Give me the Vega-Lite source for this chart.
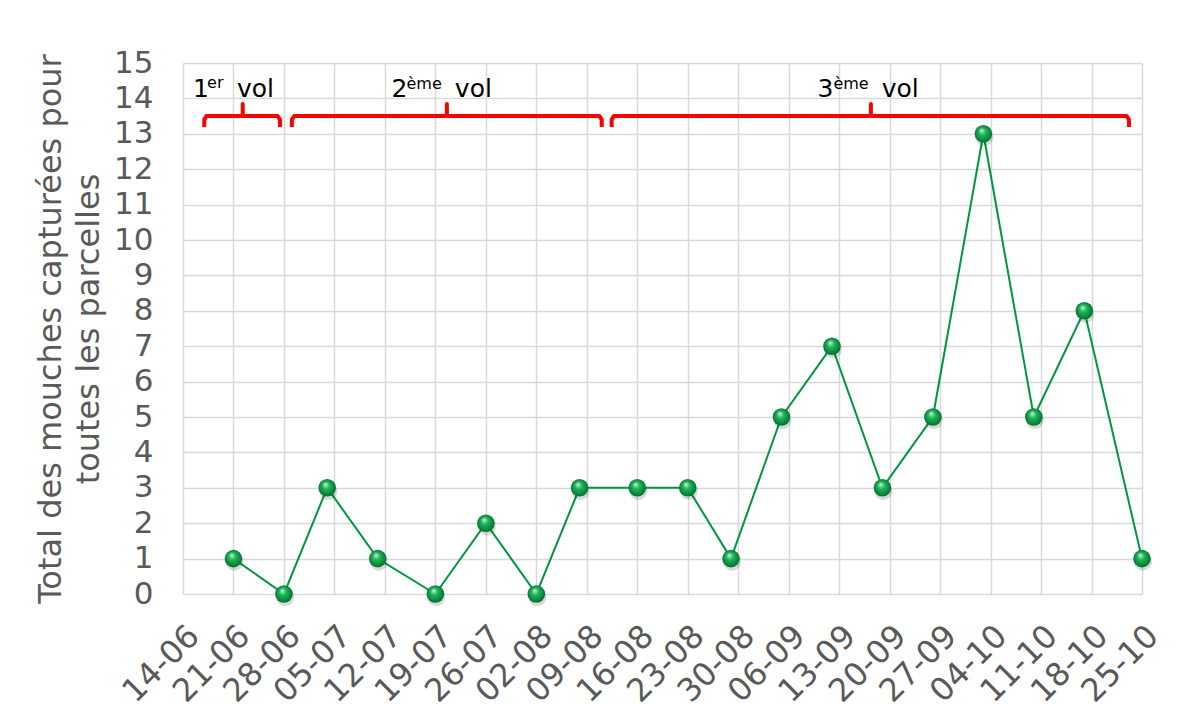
{
  "$schema": "https://vega.github.io/schema/vega-lite/v6.json",
  "width": 959,
  "height": 531,
  "autosize": {"type": "none"},
  "padding": {"left": 183, "top": 63, "right": 58, "bottom": 123},
  "background": "white",
  "config": {
    "font": "DejaVu Sans",
    "view": {"stroke": null},
    "axis": {"labelColor": "#595959", "titleColor": "#595959", "gridColor": "#d9d9d9", "gridWidth": 1.5, "domain": false, "ticks": false, "tickSize": 0}
  },
  "datasets": {
    "pts": [
      {"date": "2021/06/21", "v": 1},
      {"date": "2021/06/28", "v": 0},
      {"date": "2021/07/04", "v": 3},
      {"date": "2021/07/11", "v": 1},
      {"date": "2021/07/19", "v": 0},
      {"date": "2021/07/26", "v": 2},
      {"date": "2021/08/02", "v": 0},
      {"date": "2021/08/08", "v": 3},
      {"date": "2021/08/16", "v": 3},
      {"date": "2021/08/23", "v": 3},
      {"date": "2021/08/29", "v": 1},
      {"date": "2021/09/05", "v": 5},
      {"date": "2021/09/12", "v": 7},
      {"date": "2021/09/19", "v": 3},
      {"date": "2021/09/26", "v": 5},
      {"date": "2021/10/03", "v": 13},
      {"date": "2021/10/10", "v": 5},
      {"date": "2021/10/17", "v": 8},
      {"date": "2021/10/25", "v": 1}
    ],
    "braces": [
      {"b": "1", "o": 1, "date": "2021/06/16 22:48", "v": 13.19},
      {"b": "1", "o": 2, "date": "2021/06/16 22:48", "v": 13.4},
      {"b": "1", "o": 3, "date": "2021/06/17 06:00", "v": 13.5},
      {"b": "1", "o": 4, "date": "2021/06/22 06:45", "v": 13.5},
      {"b": "1", "o": 5, "date": "2021/06/22 06:45", "v": 13.84},
      {"b": "1", "o": 6, "date": "2021/06/22 06:45", "v": 13.5},
      {"b": "1", "o": 7, "date": "2021/06/27 03:00", "v": 13.5},
      {"b": "1", "o": 8, "date": "2021/06/27 10:48", "v": 13.4},
      {"b": "1", "o": 9, "date": "2021/06/27 10:48", "v": 13.19},
      {"b": "2", "o": 1, "date": "2021/06/29 02:24", "v": 13.19},
      {"b": "2", "o": 2, "date": "2021/06/29 02:24", "v": 13.4},
      {"b": "2", "o": 3, "date": "2021/06/29 10:00", "v": 13.5},
      {"b": "2", "o": 4, "date": "2021/07/20 14:24", "v": 13.5},
      {"b": "2", "o": 5, "date": "2021/07/20 14:24", "v": 13.84},
      {"b": "2", "o": 6, "date": "2021/07/20 14:24", "v": 13.5},
      {"b": "2", "o": 7, "date": "2021/08/10 18:00", "v": 13.5},
      {"b": "2", "o": 8, "date": "2021/08/11 01:41", "v": 13.4},
      {"b": "2", "o": 9, "date": "2021/08/11 01:41", "v": 13.19},
      {"b": "3", "o": 1, "date": "2021/08/12 10:48", "v": 13.19},
      {"b": "3", "o": 2, "date": "2021/08/12 10:48", "v": 13.4},
      {"b": "3", "o": 3, "date": "2021/08/12 18:00", "v": 13.5},
      {"b": "3", "o": 4, "date": "2021/09/17 09:36", "v": 13.5},
      {"b": "3", "o": 5, "date": "2021/09/17 09:36", "v": 13.84},
      {"b": "3", "o": 6, "date": "2021/09/17 09:36", "v": 13.5},
      {"b": "3", "o": 7, "date": "2021/10/22 21:00", "v": 13.5},
      {"b": "3", "o": 8, "date": "2021/10/23 04:48", "v": 13.4},
      {"b": "3", "o": 9, "date": "2021/10/23 04:48", "v": 13.19}
    ],
    "labels": [
      {"part": "main", "t": "1", "date": "2021/06/15 09:20", "v": 14.03},
      {"part": "sup", "t": "er", "date": "2021/06/17 08:00", "v": 14.29},
      {"part": "main", "t": "vol", "date": "2021/06/21 11:45", "v": 14.03},
      {"part": "main", "t": "2", "date": "2021/07/12 21:40", "v": 14.03},
      {"part": "sup", "t": "ème", "date": "2021/07/15 00:00", "v": 14.27},
      {"part": "main", "t": "vol", "date": "2021/07/21 16:48", "v": 14.03},
      {"part": "main", "t": "3", "date": "2021/09/10 00:00", "v": 14.03},
      {"part": "sup", "t": "ème", "date": "2021/09/12 04:48", "v": 14.27},
      {"part": "main", "t": "vol", "date": "2021/09/18 21:36", "v": 14.03}
    ]
  },
  "encoding": {
    "x": {
      "field": "date", "type": "temporal",
      "scale": {"domain": [{"year": 2021, "month": 6, "date": 14}, {"year": 2021, "month": 10, "date": 25}]},
      "axis": {
        "title": null, "format": "%d-%m", "labelAngle": -45, "labelFontSize": 32, "labelPadding": 26,
        "labelOverlap": false, "labelFlush": false, "grid": true,
        "values": [
          {"year": 2021, "month": 6, "date": 14}, {"year": 2021, "month": 6, "date": 21}, {"year": 2021, "month": 6, "date": 28},
          {"year": 2021, "month": 7, "date": 5}, {"year": 2021, "month": 7, "date": 12}, {"year": 2021, "month": 7, "date": 19},
          {"year": 2021, "month": 7, "date": 26}, {"year": 2021, "month": 8, "date": 2}, {"year": 2021, "month": 8, "date": 9},
          {"year": 2021, "month": 8, "date": 16}, {"year": 2021, "month": 8, "date": 23}, {"year": 2021, "month": 8, "date": 30},
          {"year": 2021, "month": 9, "date": 6}, {"year": 2021, "month": 9, "date": 13}, {"year": 2021, "month": 9, "date": 20},
          {"year": 2021, "month": 9, "date": 27}, {"year": 2021, "month": 10, "date": 4}, {"year": 2021, "month": 10, "date": 11},
          {"year": 2021, "month": 10, "date": 18}, {"year": 2021, "month": 10, "date": 25}
        ]
      }
    },
    "y": {
      "field": "v", "type": "quantitative",
      "scale": {"domain": [0, 15], "nice": false},
      "axis": {
        "title": ["Total des mouches capturées pour", "toutes les parcelles"],
        "titleFontSize": 32, "titleFontWeight": "normal", "titleLineHeight": 38, "titlePadding": 8,
        "labelFontSize": 31, "labelPadding": 30, "grid": true,
        "values": [0, 1, 2, 3, 4, 5, 6, 7, 8, 9, 10, 11, 12, 13, 14, 15]
      }
    }
  },
  "layer": [
    {
      "data": {"name": "braces"},
      "mark": {"type": "line", "color": "#ff0000", "strokeWidth": 4, "strokeJoin": "round"},
      "encoding": {"detail": {"field": "b"}, "order": {"field": "o", "type": "quantitative"}}
    },
    {
      "data": {"name": "labels"},
      "transform": [{"filter": "datum.part === 'main'"}],
      "mark": {"type": "text", "align": "left", "baseline": "alphabetic", "fontSize": 25, "color": "#000000"},
      "encoding": {"text": {"field": "t"}}
    },
    {
      "data": {"name": "labels"},
      "transform": [{"filter": "datum.part === 'sup'"}],
      "mark": {"type": "text", "align": "left", "baseline": "alphabetic", "fontSize": 16, "color": "#000000"},
      "encoding": {"text": {"field": "t"}}
    },
    {
      "data": {"name": "pts"},
      "mark": {"type": "line", "color": "#009640", "strokeWidth": 2}
    },
    {
      "data": {"name": "pts"},
      "mark": {"type": "point", "filled": true, "size": 330, "color": "#000000", "opacity": 0.15, "xOffset": 1, "yOffset": 3}
    },
    {
      "data": {"name": "pts"},
      "mark": {
        "type": "point", "filled": true, "size": 310, "opacity": 1,
        "fill": {"gradient": "radial", "x1": 0.4, "y1": 0.3, "r1": 0.02, "x2": 0.5, "y2": 0.5, "r2": 0.55,
          "stops": [{"offset": 0, "color": "#b8f0c8"}, {"offset": 0.35, "color": "#1fb55a"}, {"offset": 1, "color": "#00692c"}]}
      }
    }
  ]
}
